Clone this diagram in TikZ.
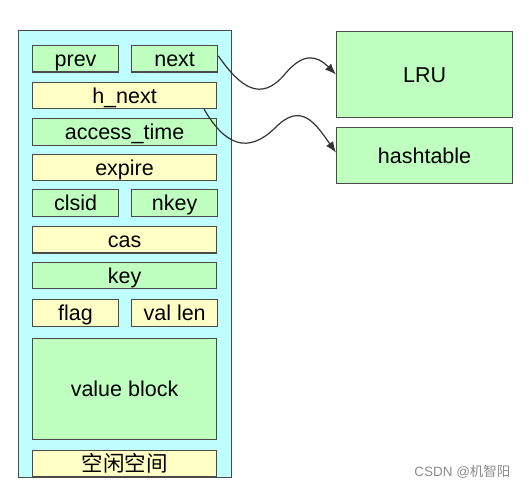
\documentclass[tikz,border=0pt]{standalone}
\usepackage{fontspec}
\setmainfont{Liberation Sans}
\newfontfamily\cjkfont{Noto Sans CJK SC}
\usetikzlibrary{arrows.meta,positioning}
\definecolor{itemcyan}{HTML}{BFFFFF}
\definecolor{fieldgreen}{HTML}{BFFFBF}
\definecolor{fieldyellow}{HTML}{FFFFC6}
\definecolor{edgegray}{HTML}{4A4A4A}

\begin{document}
\begin{tikzpicture}[
  x=1pt, y=1pt,
  field/.style={draw=edgegray, line width=1.1pt, inner sep=0pt, minimum height=26.5pt, text height=17.5pt, text depth=2pt, font=\fontsize{21.5}{24}\selectfont},
  gbox/.style={field, fill=fieldgreen},
  ybox/.style={field, fill=fieldyellow},
  half/.style={minimum width=86pt},
  full/.style={minimum width=184pt},
  link/.style={draw=black!80, line width=1.2pt, -{Latex[length=11pt,width=8.5pt]}}
]
\useasboundingbox (0,0) rectangle (529,487);
\node[draw=edgegray, line width=1.2pt, fill=itemcyan, inner sep=0pt, minimum width=213pt, minimum height=447pt, anchor=north west] (item) at (18,457) {};
\node[gbox, half, anchor=north west] (prev) at ([shift={(14pt,-15pt)}]item.north west) {prev};
\node[gbox, half, right=12pt of prev] (next) {next};
\node[ybox, full, below=9pt of prev.south west, anchor=north west] (hnext) {h\_next};
\node[gbox, full, below=9pt of hnext] (atime) {access\_time};
\node[ybox, full, below=8pt of atime] (expire) {expire};
\node[gbox, half, below=8pt of expire.south west, anchor=north west] (clsid) {clsid};
\node[gbox, half, right=12pt of clsid] (nkey) {nkey};
\node[ybox, full, below=9pt of clsid.south west, anchor=north west] (cas) {cas};
\node[gbox, full, below=8pt of cas] (key) {key};
\node[ybox, half, below=10pt of key.south west, anchor=north west] (flag) {flag};
\node[ybox, half, right=12pt of flag] (vlen) {val len};
\node[gbox, full, minimum height=101pt, below=11pt of flag.south west, anchor=north west] (value) {value block};
\node[ybox, full, below=10pt of value] (free) {\cjkfont 空闲空间};

\node[gbox, minimum width=176pt, minimum height=86pt, anchor=north west] (lru) at (336,456) {LRU};
\node[gbox, minimum width=176pt, minimum height=56pt, below=9pt of lru] (hash) {hashtable};

\coordinate (bend1) at (285,413);
\coordinate (bend2) at (276,360);
\draw[link] ([yshift=3pt]next.east) to[out=-55,in=-130,looseness=1.4] (bend1) to[out=50,in=135,looseness=1.4] (lru.west);
\draw[link] ([xshift=-13pt]hnext.south east) to[out=-60,in=-135,looseness=1.4] (bend2) to[out=45,in=125,looseness=1.4] ([yshift=3pt]hash.west);

\node[anchor=east, text=black!45, font=\fontsize{13.5}{16}\selectfont] (mark) at (514,15) {CSDN @{\cjkfont 机智阳}};
\end{tikzpicture}
\end{document}
